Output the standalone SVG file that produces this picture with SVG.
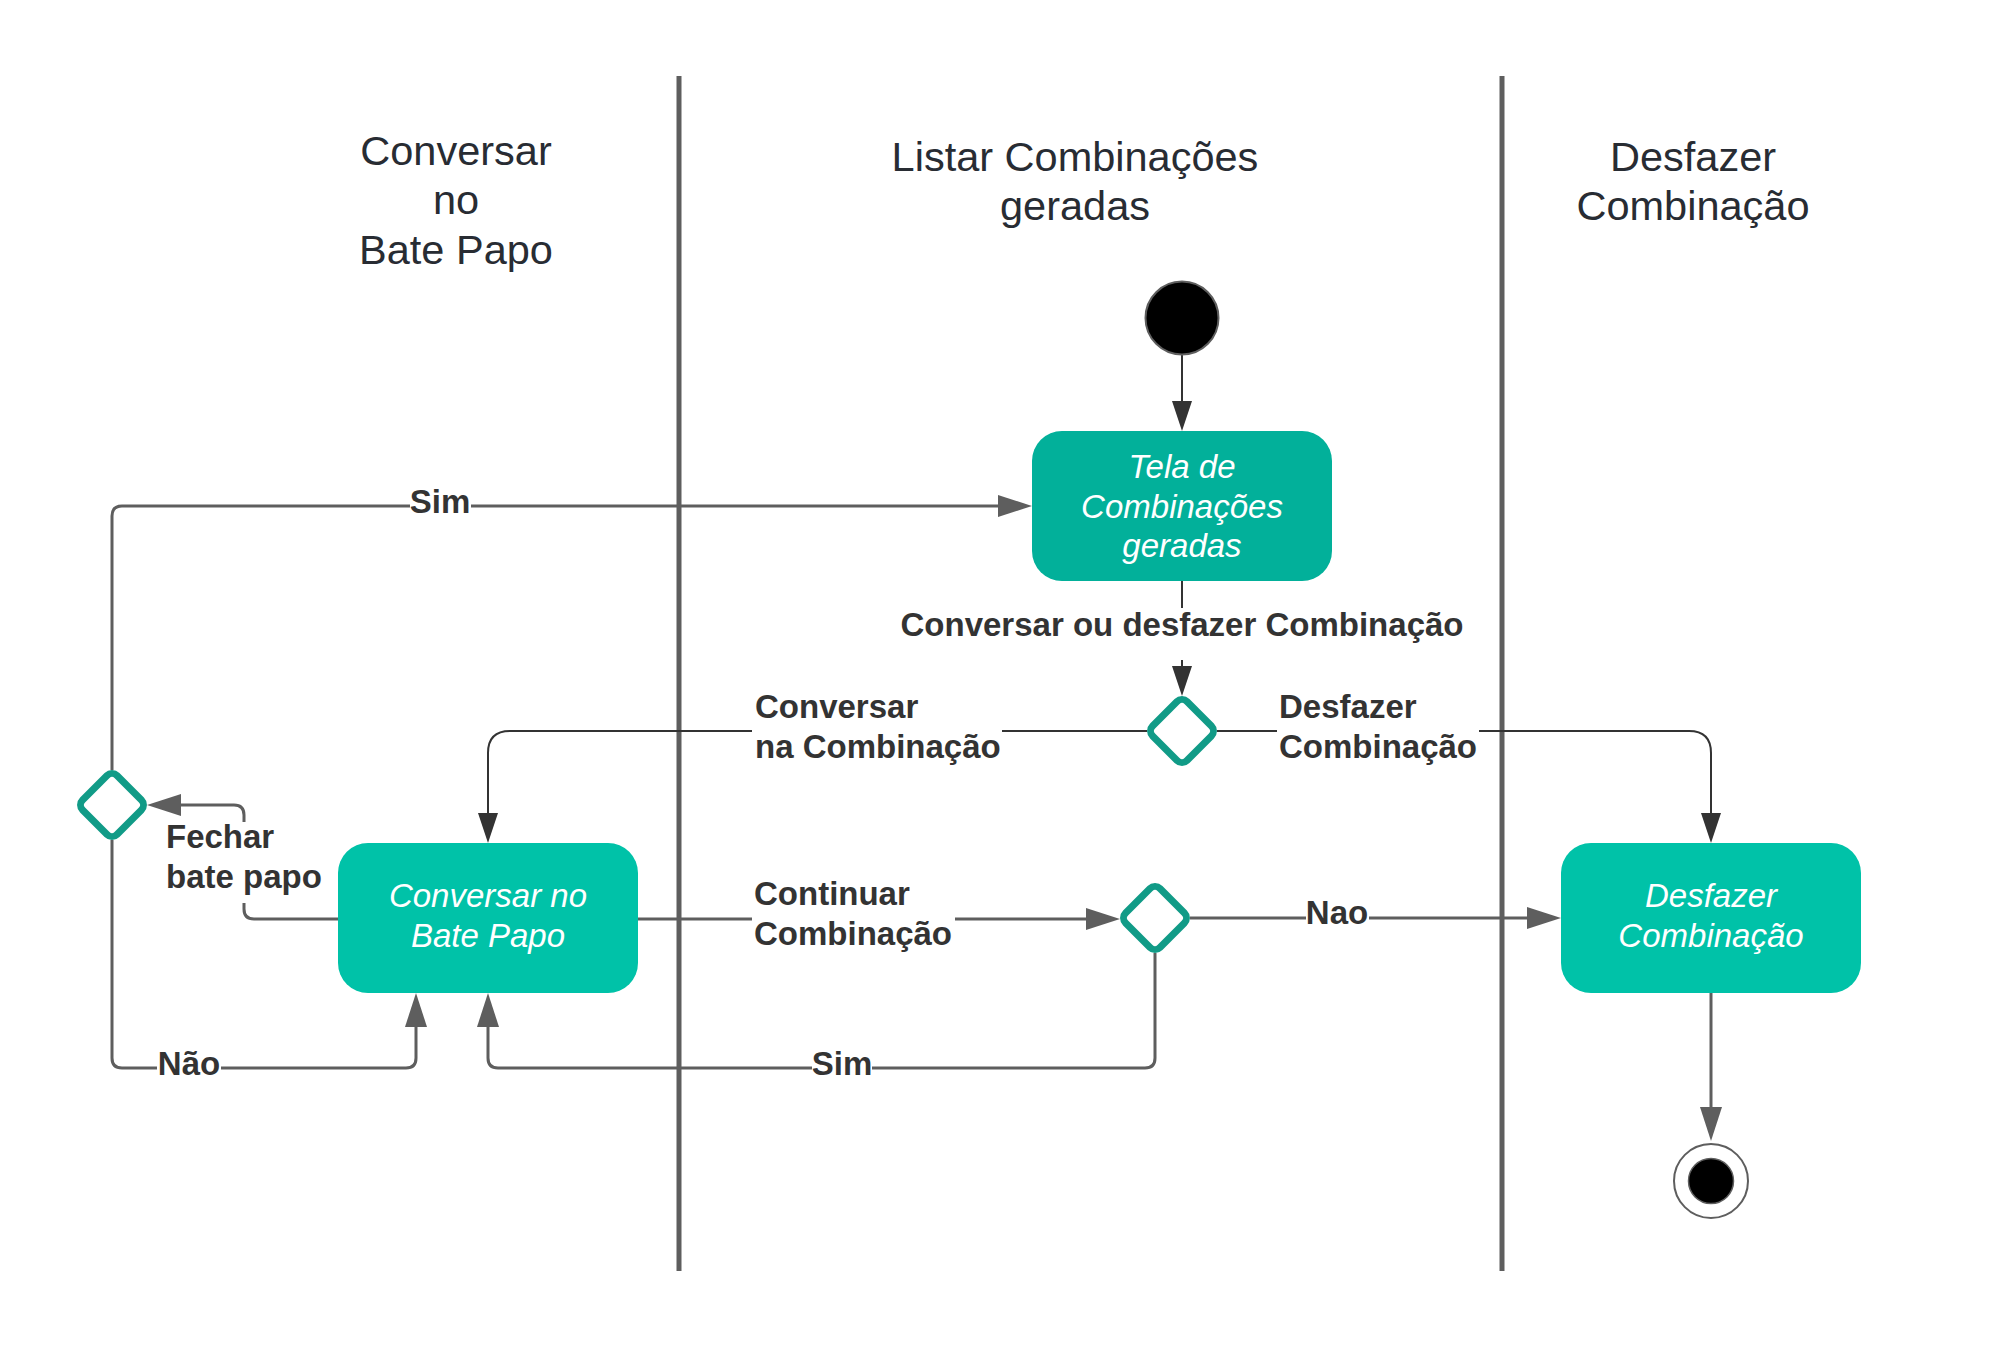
<svg xmlns="http://www.w3.org/2000/svg" width="1993" height="1350" viewBox="0 0 1993 1350">
<style>
.lane{stroke:#5E5E5E;stroke-width:5;fill:none}
.head{font-family:"Liberation Sans",Arial,sans-serif;font-size:41.5px;fill:#282C33;text-anchor:middle}
.box{stroke:none}
.boxtxt{font-family:"Liberation Sans",Arial,sans-serif;font-size:33px;font-style:italic;fill:#FFFFFF;text-anchor:middle}
.dia{fill:#FFFFFF;stroke:#119B87;stroke-width:7}
.cg{stroke:#5E5E5E;stroke-width:3;fill:none}
.cd{stroke:#333333;stroke-width:2;fill:none}
.lbl{font-family:"Liberation Sans",Arial,sans-serif;font-size:33px;font-weight:bold;fill:#333333}
.bg{fill:#FFFFFF}
</style>
<defs>
<marker id="arrG" markerUnits="userSpaceOnUse" markerWidth="34" markerHeight="22" refX="0" refY="11" orient="auto" overflow="visible"><path d="M0,0 L34,11 L0,22 Z" fill="#5E5E5E"/></marker>
<marker id="arrD" markerUnits="userSpaceOnUse" markerWidth="30" markerHeight="20" refX="0" refY="10" orient="auto" overflow="visible"><path d="M0,0 L30,10 L0,20 Z" fill="#333333"/></marker>
</defs>
<rect width="1993" height="1350" fill="#FFFFFF"/>
<g id="lanes">
<line class="lane" x1="679" y1="76" x2="679" y2="1271"/>
<line class="lane" x1="1502" y1="76" x2="1502" y2="1271"/>
<text class="head" x="456"><tspan x="456" y="165">Conversar</tspan><tspan x="456" y="214">no</tspan><tspan x="456" y="264">Bate Papo</tspan></text>
<text class="head" x="1075"><tspan x="1075" y="171">Listar Combinações</tspan><tspan x="1075" y="220">geradas</tspan></text>
<text class="head" x="1693"><tspan x="1693" y="171">Desfazer</tspan><tspan x="1693" y="220">Combinação</tspan></text>
</g>
<g id="connectors">
<path class="cg" d="M112,770 V516 Q112,506 122,506 H998" marker-end="url(#arrG)"/>
<path class="cg" d="M112,840 V1058 Q112,1068 122,1068 H406 Q416,1068 416,1058 V1027" marker-end="url(#arrG)"/>
<path class="cg" d="M338,919 H254 Q244,919 244,909 V815 Q244,805 234,805 H181" marker-end="url(#arrG)"/>
<path class="cg" d="M637,919 H1086" marker-end="url(#arrG)"/>
<path class="cg" d="M1190,918 H1527" marker-end="url(#arrG)"/>
<path class="cg" d="M1155,953 V1058 Q1155,1068 1145,1068 H498 Q488,1068 488,1058 V1027" marker-end="url(#arrG)"/>
<path class="cg" d="M1711,993 V1107" marker-end="url(#arrG)"/>
<path class="cd" d="M1182,355 V401" marker-end="url(#arrD)"/>
<path class="cd" d="M1182,581 V666" marker-end="url(#arrD)"/>
<path class="cd" d="M1147,731 H510 Q488,731 488,753 V813" marker-end="url(#arrD)"/>
<path class="cd" d="M1217,731 H1689 Q1711,731 1711,753 V813" marker-end="url(#arrD)"/>
<g id="labels">
<rect class="bg" x="410" y="490" width="61" height="30"/>
<text class="lbl" x="440" y="513" text-anchor="middle">Sim</text>
<rect class="bg" x="157" y="1052" width="64" height="30"/>
<text class="lbl" x="189" y="1075" text-anchor="middle">Não</text>
<rect class="bg" x="164" y="822" width="162" height="81"/>
<text class="lbl"><tspan x="166" y="848">Fechar</tspan><tspan x="166" y="888">bate papo</tspan></text>
<rect class="bg" x="752" y="878" width="203" height="80"/>
<text class="lbl"><tspan x="754" y="905">Continuar</tspan><tspan x="754" y="945">Combinação</tspan></text>
<rect class="bg" x="1306" y="902" width="63" height="30"/>
<text class="lbl" x="1337" y="924" text-anchor="middle">Nao</text>
<rect class="bg" x="812" y="1052" width="60" height="30"/>
<text class="lbl" x="842" y="1075" text-anchor="middle">Sim</text>
<rect class="bg" x="897" y="608" width="570" height="52"/>
<text class="lbl" x="1182" y="636" text-anchor="middle">Conversar ou desfazer Combinação</text>
<rect class="bg" x="752" y="692" width="250" height="78"/>
<text class="lbl"><tspan x="755" y="718">Conversar</tspan><tspan x="755" y="758">na Combinação</tspan></text>
<rect class="bg" x="1277" y="692" width="202" height="78"/>
<text class="lbl"><tspan x="1279" y="718">Desfazer</tspan><tspan x="1279" y="758">Combinação</tspan></text>
</g>
</g>
<g id="start">
<circle cx="1182" cy="318" r="36.5" fill="#000000" stroke="#5E5E5E" stroke-width="2"/>
</g>
<g id="tela">
<rect class="box" x="1032" y="431" width="300" height="150" rx="30" fill="#02B09A"/>
<text class="boxtxt"><tspan x="1182" y="478">Tela de</tspan><tspan x="1182" y="518">Combinações</tspan><tspan x="1182" y="557">geradas</tspan></text>
</g>
<g id="decision1">
<rect class="dia" x="-24.3" y="-24.3" width="48.6" height="48.6" rx="7" transform="translate(1182,731) rotate(45)"/>
</g>
<g id="conversar">
<rect class="box" x="338" y="843" width="300" height="150" rx="30" fill="#00C2A8"/>
<text class="boxtxt"><tspan x="488" y="907">Conversar no</tspan><tspan x="488" y="947">Bate Papo</tspan></text>
</g>
<g id="decision2">
<rect class="dia" x="-24.3" y="-24.3" width="48.6" height="48.6" rx="7" transform="translate(1155,918) rotate(45)"/>
</g>
<g id="decision3">
<rect class="dia" x="-24.3" y="-24.3" width="48.6" height="48.6" rx="7" transform="translate(112,805) rotate(45)"/>
</g>
<g id="desfazer">
<rect class="box" x="1561" y="843" width="300" height="150" rx="30" fill="#00C2A8"/>
<text class="boxtxt"><tspan x="1711" y="907">Desfazer</tspan><tspan x="1711" y="947">Combinação</tspan></text>
</g>
<g id="end">
<circle cx="1711" cy="1181" r="37" fill="#FFFFFF" stroke="#5E5E5E" stroke-width="2"/>
<circle cx="1711" cy="1181" r="22.5" fill="#000000" stroke="#5E5E5E" stroke-width="1.5"/>
</g>
</svg>
